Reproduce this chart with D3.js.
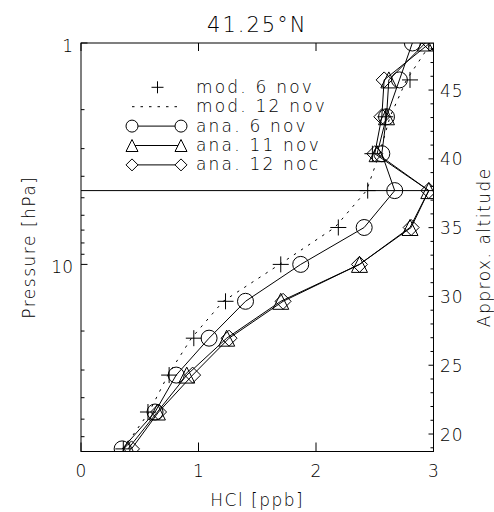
<!DOCTYPE html>
<html>
<head>
<meta charset="utf-8">
<script src="https://cdn.jsdelivr.net/npm/d3@7"></script>
<style>
  body { margin: 0; background: #fff; }
  svg text { font-family: "DejaVu Sans", "Liberation Sans", sans-serif; font-weight: 200; fill: #000; }
</style>
</head>
<body>
<svg width="494" height="512"></svg>
<script>
// pressure levels (hPa), bottom to top
var levels = [68.13, 46.42, 31.62, 21.54, 14.68, 10, 6.813, 4.642, 3.162, 2.154, 1.468, 1];

// HCl mixing ratio (ppb) on those levels
var mod6  = [0.36, 0.57, 0.75, 0.96, 1.23, 1.70, 2.19, 2.44, 2.48, 2.59, 2.80, 2.96];
var mod12 = [0.36, 0.58, 0.74, 0.94, 1.21, 1.69, 2.16, 2.43, 2.54, 2.63, 2.77, 2.98];
var ana6  = [0.35, 0.63, 0.81, 1.09, 1.40, 1.87, 2.41, 2.67, 2.56, 2.60, 2.71, 2.82];
var ana11 = [0.40, 0.65, 0.90, 1.24, 1.70, 2.37, 2.80, 2.96, 2.52, 2.60, 2.62, 2.93];
var ana12 = [0.43, 0.66, 0.95, 1.26, 1.72, 2.37, 2.81, 2.96, 2.50, 2.56, 2.58, 2.97];

var refLevel = 4.642;   // horizontal line

var xTicks = [0, 1, 2, 3];
var pMajor = [1, 10];
var pMinor = [2, 3, 4, 5, 6, 7, 8, 9, 20, 30, 40, 50, 60];
var altMajor = [20, 25, 30, 35, 40, 45];

var legendLabels = ["mod. 6 nov", "mod. 12 nov", "ana. 6 nov", "ana. 11 nov", "ana. 12 noc"];

var svg = d3.select("svg"),
    pLeft = 81, pRight = 433.5, pTop = 43, pBottom = 451.5;

var x = d3.scaleLinear().domain([0, 3]).range([pLeft, pRight]);
var y = d3.scaleLog().domain([1, 70]).range([pTop, pBottom]);
var alt = d3.scaleLinear().domain([18.73, 48.42]).range([pBottom, pTop]);

svg.append("defs").append("clipPath").attr("id", "clip")
  .append("rect").attr("x", pLeft).attr("y", pTop)
  .attr("width", pRight - pLeft).attr("height", pBottom - pTop);

// marker shapes, IDL style
function symPath(kind, s) {
  if (kind == "circle") return "M" + (-s) + ",0A" + s + "," + s + " 0 1,0 " + s + ",0A" + s + "," + s + " 0 1,0 " + (-s) + ",0";
  if (kind == "triangle") return "M" + (-s) + "," + s + "L0," + (-s) + "L" + s + "," + s + "Z";
  if (kind == "diamond") return "M" + (-s) + ",0L0," + (-s) + "L" + s + ",0L0," + s + "Z";
  if (kind == "plus") return "M" + (-s) + ",0H" + s + "M0," + (-s) + "V" + s;
  return "";
}

var series = [
  {vals: mod6,  line: false, dash: null,    sym: "plus"},
  {vals: mod12, line: true,  dash: "2.5,6", sym: null},
  {vals: ana6,  line: true,  dash: null,    sym: "circle"},
  {vals: ana11, line: true,  dash: null,    sym: "triangle"},
  {vals: ana12, line: true,  dash: null,    sym: "diamond"}
];

var plot = svg.append("g").attr("clip-path", "url(#clip)");

var line = d3.line()
  .x(function(d) { return x(d[0]); })
  .y(function(d) { return y(d[1]); });

series.forEach(function(s) {
  var pts = s.vals.map(function(v, i) { return [v, levels[i]]; });
  if (s.line) {
    plot.append("path").datum(pts)
      .attr("d", line)
      .attr("fill", "none").attr("stroke", "#000").attr("stroke-width", 1)
      .attr("stroke-dasharray", s.dash);
  }
  if (s.sym) {
    plot.selectAll(null).data(pts).enter().append("path")
      .attr("transform", function(d) { return "translate(" + x(d[0]) + "," + y(d[1]) + ")"; })
      .attr("d", symPath(s.sym, 8))
      .attr("fill", "none").attr("stroke", "#000").attr("stroke-width", 1);
  }
});

// reference level line
svg.append("line")
  .attr("x1", pLeft).attr("x2", pRight)
  .attr("y1", y(refLevel)).attr("y2", y(refLevel))
  .attr("stroke", "#000");

// frame
svg.append("rect").attr("x", pLeft).attr("y", pTop)
  .attr("width", pRight - pLeft).attr("height", pBottom - pTop)
  .attr("fill", "none").attr("stroke", "#000");

// x axis ticks (bottom and top) and labels
var xa = svg.append("g");
xTicks.forEach(function(t) {
  xa.append("line").attr("x1", x(t)).attr("x2", x(t)).attr("y1", pBottom).attr("y2", pBottom - 9).attr("stroke", "#000");
  xa.append("line").attr("x1", x(t)).attr("x2", x(t)).attr("y1", pTop).attr("y2", pTop + 8).attr("stroke", "#000");
  xa.append("text").attr("x", x(t)).attr("y", 477).attr("text-anchor", "middle")
    .attr("font-size", 17).text(t);
});
svg.append("text").attr("x", (pLeft + pRight) / 2).attr("y", 506)
  .attr("text-anchor", "middle").attr("font-size", 17).attr("letter-spacing", 1.5)
  .text("HCl [ppb]");

// pressure axis
var pa = svg.append("g");
pMinor.forEach(function(p) {
  pa.append("line").attr("x1", pLeft).attr("x2", pLeft + 3.5).attr("y1", y(p)).attr("y2", y(p)).attr("stroke", "#000");
});
pMajor.forEach(function(p) {
  pa.append("line").attr("x1", pLeft).attr("x2", pLeft + 6.5).attr("y1", y(p)).attr("y2", y(p)).attr("stroke", "#000");
  pa.append("text").attr("x", 73).attr("y", y(p) + 9).attr("text-anchor", "end")
    .attr("font-size", 17).text(p);
});
svg.append("text")
  .attr("transform", "translate(35," + (pTop + pBottom) / 2 + ")rotate(-90)")
  .attr("text-anchor", "middle").attr("font-size", 17).attr("letter-spacing", 1.5)
  .text("Pressure [hPa]");

// altitude axis
var aa = svg.append("g");
d3.range(19, 49).forEach(function(a) {
  var major = altMajor.indexOf(a) >= 0;
  aa.append("line").attr("x1", pRight).attr("x2", pRight - (major ? 5 : 3))
    .attr("y1", alt(a)).attr("y2", alt(a)).attr("stroke", "#000");
});
altMajor.forEach(function(a) {
  aa.append("text").attr("x", 440).attr("y", alt(a) + 6.5)
    .attr("font-size", 17).attr("letter-spacing", 1).text(a);
});
svg.append("text")
  .attr("transform", "translate(490," + (pTop + pBottom) / 2 + ")rotate(-90)")
  .attr("text-anchor", "middle").attr("font-size", 17).attr("letter-spacing", 1.5)
  .text("Approx. altitude");

// title
svg.append("text").attr("x", (pLeft + pRight) / 2).attr("y", 31.5)
  .attr("text-anchor", "middle").attr("font-size", 21).attr("letter-spacing", 2)
  .text("41.25°N");

// legend
var lg = svg.append("g");
series.forEach(function(s, i) {
  var cy = 87.3 + i * 19.4;
  if (s.line) {
    lg.append("line").attr("x1", 132).attr("x2", 181).attr("y1", cy).attr("y2", cy)
      .attr("stroke", "#000").attr("stroke-dasharray", s.dash);
  }
  if (s.sym && s.line) {
    [132, 181].forEach(function(px) {
      lg.append("path").attr("transform", "translate(" + px + "," + cy + ")")
        .attr("d", symPath(s.sym, 6)).attr("fill", "#fff").attr("stroke", "#000");
    });
  } else if (s.sym) {
    lg.append("path").attr("transform", "translate(157.5," + cy + ")")
      .attr("d", symPath(s.sym, 6)).attr("fill", "none").attr("stroke", "#000");
  }
  lg.append("text").attr("x", 196).attr("y", cy + 5.5)
    .attr("font-size", 17).attr("letter-spacing", 2.2).text(legendLabels[i]);
});
</script>
</body>
</html>
